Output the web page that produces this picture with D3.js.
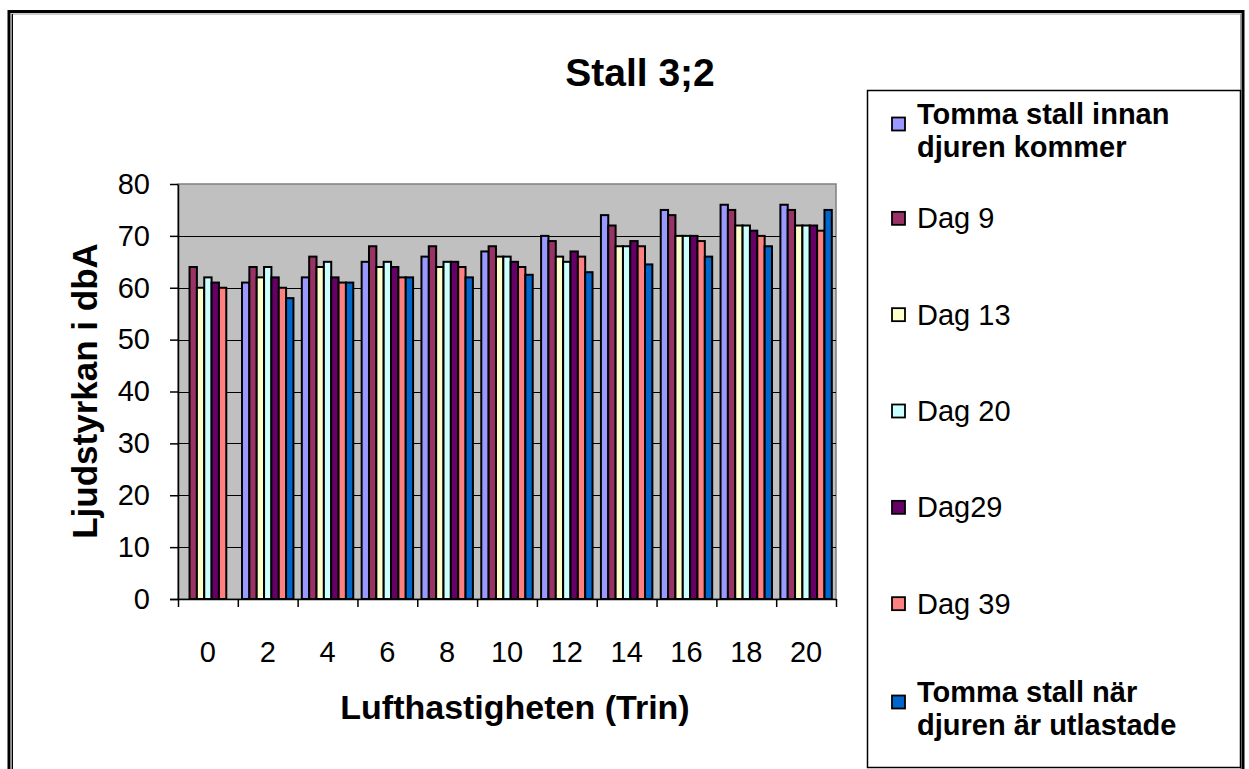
<!DOCTYPE html>
<html>
<head>
<meta charset="utf-8">
<script src="https://cdn.jsdelivr.net/npm/d3@7"></script>
<style>
  html, body { margin: 0; padding: 0; background: #fff; }
  #chart-container { width: 1249px; height: 769px; }
  text { font-family: "Liberation Sans", Arial, sans-serif; fill: #000; }
</style>
</head>
<body>
<div id="chart-container"></div>
<script>
// --- data ---
const categories = ['0', '2', '4', '6', '8', '10', '12', '14', '16', '18', '20'];
const seriesNames = [
    'Tomma stall innan djuren kommer',
    'Dag 9',
    'Dag 13',
    'Dag 20',
    'Dag29',
    'Dag 39',
    'Tomma stall när djuren är utlastade'
];
const tommaInnan = [null, 61, 62, 65, 66, 67, 70, 74, 75, 76, 76];
const dag9 = [64, 64, 66, 68, 68, 68, 69, 72, 74, 75, 75];
const dag13 = [60, 62, 64, 64, 64, 66, 66, 68, 70, 72, 72];
const dag20 = [62, 64, 65, 65, 65, 66, 65, 68, 70, 72, 72];
const dag29 = [61, 62, 62, 64, 65, 65, 67, 69, 70, 71, 72];
const dag39 = [60, 60, 61, 62, 64, 64, 66, 68, 69, 70, 71];
const tommaUtlastade = [null, 58, 61, 62, 62, 62.5, 63, 64.5, 66, 68, 75];
const yTicks = [0, 10, 20, 30, 40, 50, 60, 70, 80];
const seriesColors = ['#9999FF', '#993366', '#FFFFCC', '#CCFFFF', '#660066', '#FF8080', '#0066CC'];

// legend labels, wrapped like in the original
const legendLines = [
    ['Tomma stall innan', 'djuren kommer'],
    ['Dag 9'],
    ['Dag 13'],
    ['Dag 20'],
    ['Dag29'],
    ['Dag 39'],
    ['Tomma stall när', 'djuren är utlastade']
];
const legendBold = [true, false, false, false, false, false, true];

renderChart();

function renderChart() {
    const container = document.getElementById('chart-container');
    const width = 1249, height = 769;
    const allSeries = [tommaInnan, dag9, dag13, dag20, dag29, dag39, tommaUtlastade];

    const svg = d3.select(container).append('svg')
        .attr('width', width).attr('height', height)
        .attr('viewBox', `0 0 ${width} ${height}`);

    // outer chart frame (runs off the bottom of the picture)
    svg.append('rect').attr('x', 9).attr('y', 11.5).attr('width', 1234).attr('height', 800)
        .attr('fill', '#fff').attr('stroke', '#000').attr('stroke-width', 3);
    svg.append('rect').attr('x', 11.5).attr('y', 14).attr('width', 1229).attr('height', 800)
        .attr('fill', 'none').attr('stroke', '#9a9a9a').attr('stroke-width', 1);
    svg.append('line').attr('x1', 12.5).attr('x2', 12.5).attr('y1', 14).attr('y2', 769)
        .attr('stroke', '#000').attr('stroke-width', 1);

    const plot = { left: 178, right: 836, top: 184, bottom: 599 };

    const x = d3.scaleBand().domain(categories)
        .range([plot.left, plot.right]).paddingInner(0.14).paddingOuter(0.07);
    const xSeries = d3.scaleBand().domain(d3.range(seriesNames.length))
        .range([0, x.bandwidth()]).padding(0);
    const y = d3.scaleLinear().domain([0, 80]).range([plot.bottom, plot.top]);
    const xEdges = d3.scaleLinear().domain([0, categories.length]).range([plot.left, plot.right]);

    // plot area
    svg.append('rect')
        .attr('x', plot.left).attr('y', plot.top)
        .attr('width', plot.right - plot.left).attr('height', plot.bottom - plot.top)
        .attr('fill', '#C0C0C0').attr('stroke', '#808080').attr('stroke-width', 1.5);

    // gridlines
    svg.append('g').selectAll('line').data(yTicks.filter(v => v > 0 && v < 80)).join('line')
        .attr('x1', plot.left).attr('x2', plot.right)
        .attr('y1', d => Math.round(y(d)) + 0.5).attr('y2', d => Math.round(y(d)) + 0.5)
        .attr('stroke', '#000').attr('stroke-width', 1.2);

    // bars
    const groups = svg.append('g').selectAll('g').data(categories).join('g')
        .attr('transform', d => `translate(${x(d)},0)`);
    groups.selectAll('rect')
        .data((c, ci) => allSeries.map((s, si) => ({ si, v: s[ci] })).filter(d => d.v != null))
        .join('rect')
        .attr('x', d => xSeries(d.si))
        .attr('y', d => y(d.v))
        .attr('width', xSeries.bandwidth())
        .attr('height', d => y(0) - y(d.v))
        .attr('fill', d => seriesColors[d.si])
        .attr('stroke', '#000').attr('stroke-width', 2);

    // y axis
    const yAxis = svg.append('g').attr('transform', `translate(${plot.left},0)`)
        .call(d3.axisLeft(y).tickValues(yTicks).tickSize(8).tickPadding(20).tickSizeOuter(0));
    yAxis.select('.domain').attr('stroke', '#000').attr('stroke-width', 1.5);
    yAxis.selectAll('.tick line').attr('stroke', '#000').attr('stroke-width', 1.5);
    yAxis.selectAll('.tick text').attr('font-size', 29).attr('font-family', '"Liberation Sans", Arial, sans-serif');

    // x axis: tick marks at the category edges, labels at the centres
    const xTickAxis = svg.append('g').attr('transform', `translate(0,${plot.bottom})`)
        .call(d3.axisBottom(xEdges).tickValues(d3.range(categories.length + 1)).tickSize(8).tickFormat(''));
    xTickAxis.select('.domain').attr('stroke', '#000').attr('stroke-width', 1.5)
        .attr('d', `M${plot.left - 8},0.5H${plot.right}`);
    xTickAxis.selectAll('.tick line').attr('stroke', '#000').attr('stroke-width', 1.5);

    const xLabelAxis = svg.append('g').attr('transform', `translate(0,${plot.bottom})`)
        .call(d3.axisBottom(x).tickSize(0).tickPadding(42));
    xLabelAxis.select('.domain').remove();
    xLabelAxis.selectAll('.tick text').attr('font-size', 29).attr('font-family', '"Liberation Sans", Arial, sans-serif');

    // titles
    svg.append('text').attr('x', 640).attr('y', 86).attr('text-anchor', 'middle')
        .attr('font-size', 39).attr('font-weight', 'bold').text('Stall 3;2');
    svg.append('text').attr('x', 515).attr('y', 719).attr('text-anchor', 'middle')
        .attr('font-size', 34).attr('font-weight', 'bold').text('Lufthastigheten (Trin)');
    svg.append('text').attr('transform', 'translate(97,391) rotate(-90)').attr('text-anchor', 'middle')
        .attr('font-size', 35).attr('font-weight', 'bold').text('Ljudstyrkan i dbA');

    // legend
    svg.append('rect').attr('x', 867.5).attr('y', 90.5).attr('width', 373).attr('height', 677)
        .attr('fill', '#fff').attr('stroke', '#000').attr('stroke-width', 1.5);
    const legendY = d3.scaleLinear().domain([0, seriesNames.length - 1]).range([124, 702]);
    const item = svg.append('g').selectAll('g').data(seriesNames).join('g')
        .attr('transform', (d, i) => `translate(892,${legendY(i) - (i > 0 && i < 6 ? 2 : 0)})`);
    item.append('rect').attr('x', 0).attr('y', -6.5).attr('width', 13).attr('height', 13)
        .attr('fill', (d, i) => seriesColors[i]).attr('stroke', '#000').attr('stroke-width', 1.8);
    item.each(function (d, i) {
        const lines = legendLines[i];
        const g = d3.select(this);
        const firstBase = lines.length > 1 ? 0 : 10;
        lines.forEach((ln, li) => {
            g.append('text').attr('x', 25).attr('y', firstBase + li * 33)
                .attr('font-size', 29).attr('font-weight', legendBold[i] ? 'bold' : 'normal')
                .text(ln);
        });
    });
}
</script>
</body>
</html>
